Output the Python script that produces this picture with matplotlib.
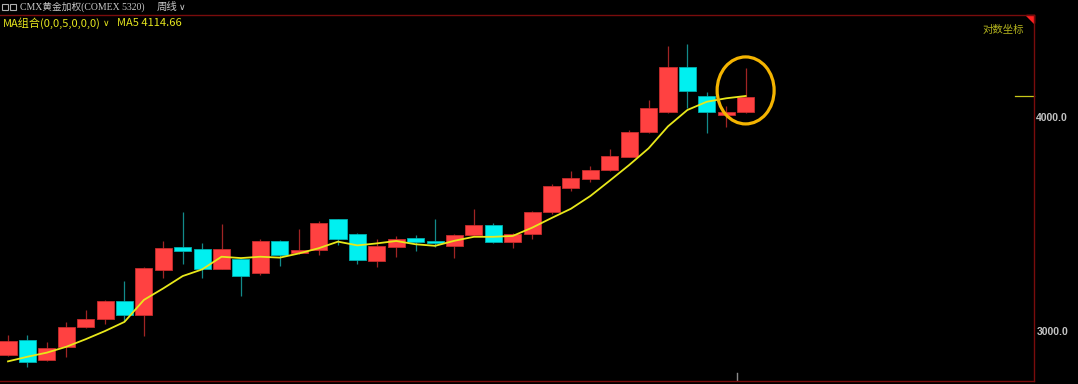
import numpy as np
import matplotlib
matplotlib.use("Agg")
import matplotlib.pyplot as plt
from matplotlib.patches import Ellipse, Rectangle, Polygon
from matplotlib.ticker import FixedLocator, FixedFormatter, NullLocator
from matplotlib.transforms import ScaledTranslation, blended_transform_factory

# 周线 K线数据 (CMX 黄金加权)
opens = [2905, 2963, 2884, 2937, 3015, 3050, 3125, 3065, 3256, 3357, 3350, 3261, 3304,
         3245, 3387, 3330, 3345, 3487, 3416, 3297, 3360, 3401, 3387, 3363, 3415, 3458,
         3381, 3419, 3519, 3636, 3680, 3723, 3792, 3920, 4028, 4280, 4116, 4012, 4025]
closes = [2961, 2879, 2932, 3015, 3049, 3122, 3064, 3266, 3353, 3341, 3261, 3350, 3229,
          3387, 3323, 3345, 3467, 3395, 3300, 3364, 3394, 3383, 3377, 3413, 3458, 3381,
          3418, 3519, 3644, 3685, 3725, 3797, 3922, 4047, 4280, 4140, 4025, 4025, 4109]
highs = [2984, 2984, 2957, 3037, 3086, 3128, 3209, 3271, 3384, 3520, 3378, 3464, 3306,
         3394, 3389, 3439, 3479, 3489, 3424, 3394, 3409, 3413, 3486, 3416, 3533, 3467,
         3424, 3524, 3657, 3718, 3746, 3830, 3931, 4092, 4402, 4412, 4137, 4058, 4272]
lows = [2901, 2857, 2883, 2898, 3011, 3028, 3042, 2980, 3220, 3283, 3223, 3259, 3146,
        3233, 3274, 3328, 3323, 3368, 3283, 3268, 3312, 3341, 3360, 3311, 3409, 3375,
        3353, 3395, 3511, 3623, 3664, 3720, 3789, 3916, 4020, 4050, 3913, 3948, 4023]
ma5 = [2880, 2898, 2914, 2937, 2967, 3000, 3037, 3128, 3177, 3230, 3259, 3315, 3309,
       3315, 3311, 3330, 3353, 3383, 3366, 3375, 3386, 3371, 3364, 3387, 3405, 3405,
       3409, 3447, 3492, 3536, 3597, 3672, 3750, 3835, 3950, 4038, 4083, 4102, 4114.66]

y_ticks = [3000, 4000]
y_labels = ["3000.0", "4000.0"]

cjk = ['Noto Sans CJK SC', 'DejaVu Sans']

fig = plt.figure(figsize=(10.78, 3.84), dpi=100, facecolor='black')
ax = fig.add_axes([0, 1 - 381 / 384, 1033.5 / 1078, (381 - 15) / 384])
ax.set_facecolor('black')

x = np.arange(len(opens))
o = np.array(opens, float)
c = np.array(closes, float)
up = c >= o

# 影线
wick_col = np.where(up, '#a02424', '#128a8a')
ax.vlines(x, lows, highs, colors=wick_col, linewidth=0.9, zorder=2)

# 实体
body_col = np.where(up, '#ff4141', '#00f0f0')
edge_col = np.where(up, '#c82c2c', '#00b0b0')
ax.bar(x, np.abs(c - o), bottom=np.minimum(o, c), width=0.88,
       color=body_col, edgecolor=edge_col, linewidth=0.6, zorder=3)

# MA5
ax.plot(x, ma5, color='#e8e81a', linewidth=1.3, zorder=4)

# 对数坐标
ax.set_yscale('log')
ax.set_xlim(-0.412, 52.83)
ax.set_ylim(2805, 4588)
ax.yaxis.set_major_locator(FixedLocator(y_ticks))
ax.yaxis.set_major_formatter(FixedFormatter(y_labels))
ax.yaxis.set_minor_locator(NullLocator())
ax.yaxis.tick_right()
ax.tick_params(axis='y', length=0, pad=2, labelsize=7.5, labelcolor='#c4c4c4')
for lab in ax.get_yticklabels():
    lab.set_fontfamily('Liberation Sans')
    lab.set_fontweight('bold')
ax.set_xticks([])

for side in ['top', 'right', 'bottom']:
    ax.spines[side].set_color('#7a0c0c')
    ax.spines[side].set_linewidth(1)
ax.spines['left'].set_visible(False)

# 右侧MA5当前值标记
bt = blended_transform_factory(ax.transAxes, ax.transData)
ax.plot([0.982, 1.0], [ma5[-1], ma5[-1]], color='#c8c81a', linewidth=0.9,
        transform=bt, clip_on=False)

# 底部灰色标记
ax.plot([0.7128, 0.7128], [0, 0.023], color='#8a8a8a', linewidth=1,
        transform=ax.transAxes)

# 圈出最后一根K线
ctr = (x[-1], np.sqrt(highs[-1] * lows[-1]))
tr = fig.dpi_scale_trans + ScaledTranslation(ctr[0], ctr[1], ax.transData)
ax.add_patch(Ellipse((0, 0), 0.57, 0.67, fill=False, edgecolor='#f4b400',
                     linewidth=2.3, transform=tr, zorder=5, clip_on=False))

ax.text(0.991, 0.972, '对数坐标', transform=ax.transAxes, ha='right', va='top',
        color='#b4b41e', fontsize=7.5, family=cjk)
ax.add_patch(Polygon([[1026 / 1033.5, 1], [1, 1], [1, 1 - 8 / 366]], closed=True,
                     color='#ff2020', transform=ax.transAxes, clip_on=False))

# 顶部标题栏
W, H = 1078.0, 384.0
for x0 in (2, 10):
    fig.patches.append(Rectangle((x0 / W, 1 - 9.5 / H), 6 / W, 5 / H, fill=False,
                                 edgecolor='#b0b0b0', linewidth=0.8,
                                 transform=fig.transFigure))
fig.text(20.5 / W, 1 - 7 / H, 'CMX黄金加权(COMEX 5320)', color='#c8c8c8', fontsize=7.0,
         va='center', ha='left', family=['Liberation Serif', 'Noto Sans CJK SC'])
fig.text(157 / W, 1 - 7 / H, '周线', color='#c8c8c8', fontsize=7.5,
         va='center', ha='left', family=cjk)
fig.text(179 / W, 1 - 7 / H, '∨', color='#c8c8c8', fontsize=6.5,
         va='center', ha='left', family='DejaVu Sans')

fig.text(3 / W, 1 - 23.5 / H, 'MA组合(0,0,5,0,0,0)', color='#e6e61e', fontsize=8,
         va='center', ha='left', family=cjk)
fig.text(103 / W, 1 - 23.5 / H, '∨', color='#e6e61e', fontsize=6.5,
         va='center', ha='left', family='DejaVu Sans')
fig.text(117 / W, 1 - 23.5 / H, 'MA5 4114.66', color='#e6e61e', fontsize=8,
         va='center', ha='left', family=cjk)

plt.savefig('out.png', dpi=100, facecolor='black')
